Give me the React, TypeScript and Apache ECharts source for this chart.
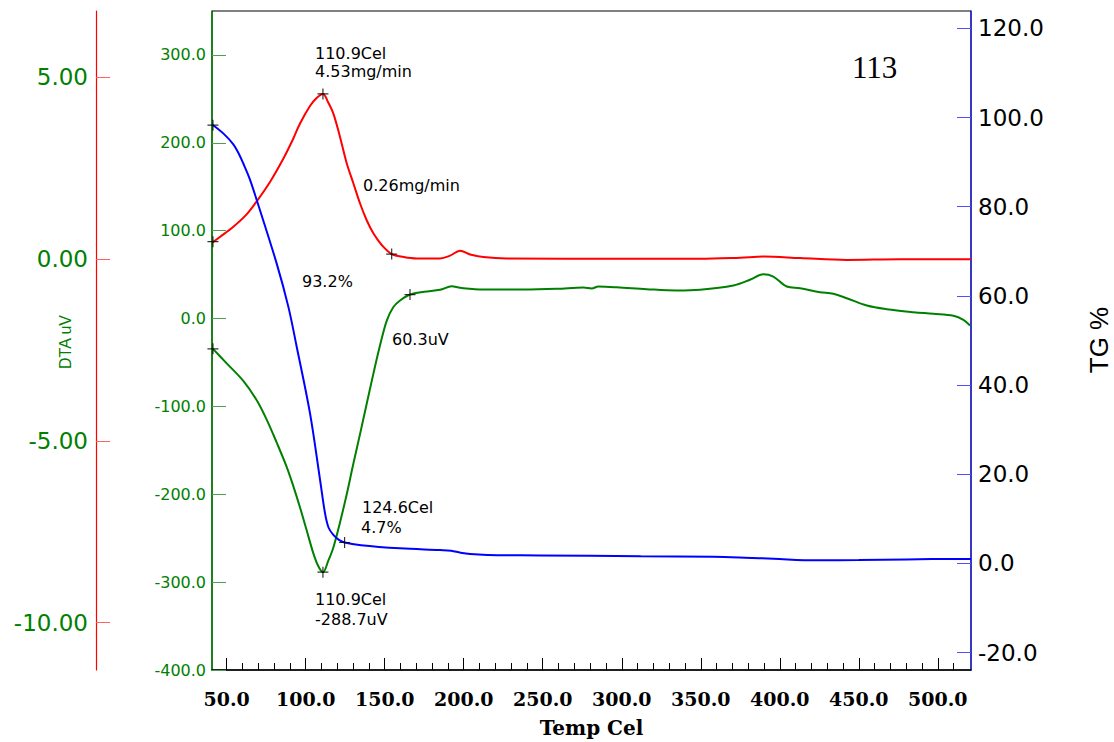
import React, { useEffect, useRef } from "react";
import * as echarts from "echarts";

// ---------- data ----------
const tgTemps = [41.0, 48.0, 54.2, 57.5, 60.5, 64.5, 69.0, 81.6, 89.0, 94.3, 102.7, 109.1, 112.2, 114.5, 117.5, 121.0, 124.6, 135, 159.7, 185, 192, 198, 204, 215, 248, 312, 358, 378, 396, 423, 450, 480, 513, 521];
const tgValues = [98.4, 96.4, 94.0, 92.0, 89.7, 86.3, 81.5, 67.3, 57.6, 48.6, 33.7, 18.7, 11.3, 8.0, 6.4, 5.3, 4.7, 4.1, 3.4, 3.0, 2.85, 2.4, 2.1, 1.9, 1.8, 1.6, 1.5, 1.3, 1.05, 0.7, 0.75, 0.9, 1.0, 1.0];

const dtgTemps = [41.0, 45.7, 54.2, 62.6, 69.0, 77.5, 85.8, 92.1, 96.4, 102.7, 106.9, 110.9, 114.1, 117.5, 121.7, 126.0, 130.2, 134.4, 138.6, 142.8, 148.1, 154.4, 162, 170.3, 185, 191, 197.7, 204, 212.4, 227.2, 300, 349.3, 375, 389.6, 412.8, 442.4, 476.1, 521];
const dtgValues = [0.45, 0.6, 0.88, 1.22, 1.58, 2.12, 2.75, 3.3, 3.72, 4.2, 4.42, 4.53, 4.31, 3.99, 3.35, 2.62, 2.07, 1.52, 1.06, 0.7, 0.38, 0.13, 0.05, 0.01, 0.01, 0.08, 0.22, 0.12, 0.05, 0.01, 0.0, 0.0, 0.03, 0.06, 0.02, -0.03, -0.01, -0.01];

const dtaTemps = [41.0, 50.0, 60.5, 69.0, 75.3, 81.6, 88.0, 92.2, 96.4, 100.6, 104.8, 108.0, 110.9, 114.3, 117.5, 121.7, 126.0, 130.1, 134.4, 138.6, 142.8, 147.0, 151.3, 155.4, 159.7, 166.0, 175, 185.0, 192.4, 197.7, 212.4, 237.7, 258.9, 275.7, 281, 285.2, 296.8, 315.8, 334.8, 349.5, 370.6, 381.1, 389.6, 395.9, 404.4, 412.8, 425.5, 433.9, 442.4, 455.1, 467.7, 484.6, 497.2, 509.9, 516.2, 520.4];
const dtaValues = [-34, -51, -71, -93, -115, -141, -169, -191, -215, -241, -267, -282, -288.7, -275.6, -260.5, -232, -199.7, -165.5, -131.3, -97, -63, -30.8, -2.3, 12.9, 20.5, 27.3, 30.5, 32.7, 36.8, 35, 33, 33, 33.8, 35.3, 34.2, 36.4, 35.6, 33.4, 31.9, 32.7, 37.6, 44.1, 50.5, 47.8, 36.4, 34.5, 30, 28.1, 23.1, 14.8, 10.6, 7.2, 5.4, 3.1, -1.5, -8];

// marker points (temperature, value)
const tgMarkers = [[41.3, 98.3], [124.6, 4.7]];
const dtgMarkers = [[41.3, 0.47], [110.9, 4.53], [154.4, 0.13]];
const dtaMarkers = [[41.3, -34.5], [110.9, -288.7], [166.0, 27.3]];

// tick values
const xMajorTicks = [50, 100, 150, 200, 250, 300, 350, 400, 450, 500];
const xMinorTicks = [50, 60, 70, 80, 90, 100, 110, 120, 130, 140, 150, 160, 170, 180, 190, 200, 210, 220, 230, 240, 250, 260, 270, 280, 290, 300, 310, 320, 330, 340, 350, 360, 370, 380, 390, 400, 410, 420, 430, 440, 450, 460, 470, 480, 490, 500, 510];
const dtaTicks = [-400, -300, -200, -100, 0, 100, 200, 300];
const dtgTicks = [-10, -5, 0, 5];
const tgTicks = [-20, 0, 20, 40, 60, 80, 100, 120];

const GREEN = "#008000";
const RED = "#ff0000";
const BLUE = "#0000ff";
const SANS = "DejaVu Sans";

const pairs = (xs: number[], ys: number[]) => xs.map((x, i) => [x, ys[i]]);

const annotations = [
  { text: "110.9Cel", x: 315, y: 53 },
  { text: "4.53mg/min", x: 315, y: 71 },
  { text: "0.26mg/min", x: 363, y: 185 },
  { text: "93.2%", x: 302, y: 281 },
  { text: "60.3uV", x: 392, y: 339 },
  { text: "124.6Cel", x: 362, y: 507 },
  { text: "4.7%", x: 361, y: 527 },
  { text: "110.9Cel", x: 315, y: 599 },
  { text: "-288.7uV", x: 315, y: 619 },
];

const CROSS = "path://M5 0L5 10M0 5L10 5";

export default function App() {
  const ref = useRef<HTMLDivElement>(null);
  useEffect(() => {
    if (!ref.current) return;
    const chart = echarts.init(ref.current, undefined, { renderer: "svg" });
    const markerSeries = (data: number[][], yAxisIndex: number) => ({
      type: "scatter",
      xAxisIndex: 0,
      yAxisIndex,
      data,
      symbol: CROSS,
      symbolSize: 11,
      itemStyle: { color: "transparent", borderColor: "#000", borderWidth: 1.2 },
      z: 10,
      silent: true,
    });
    const lineSeries = (name: string, data: number[][], yAxisIndex: number, color: string) => ({
      type: "line",
      name,
      xAxisIndex: 0,
      yAxisIndex,
      data,
      showSymbol: false,
      smooth: 0.35,
      lineStyle: { color, width: 2 },
      silent: true,
    });
    chart.setOption({
      animation: false,
      backgroundColor: "#fff",
      grid: {
        left: 212,
        right: 143,
        top: 11,
        bottom: 72,
        show: true,
        borderColor: "#000",
        borderWidth: 1,
        containLabel: false,
        outerBoundsMode: "none",
      },
      xAxis: [
        {
          type: "value",
          position: "bottom",
          min: 40.7,
          max: 521,
          name: "Temp Cel",
          nameLocation: "middle",
          nameGap: 48,
          nameTextStyle: { fontFamily: "DejaVu Serif", fontWeight: "bold", fontSize: 20, color: "#000" },
          axisLine: { show: true, onZero: false, lineStyle: { color: "#000", width: 1.5 } },
          axisTick: { show: true, inside: true, length: 12, customValues: xMajorTicks, lineStyle: { color: "#000" } },
          axisLabel: {
            customValues: xMajorTicks,
            formatter: (v: number) => v.toFixed(1),
            fontFamily: "DejaVu Serif",
            fontWeight: "bold",
            fontSize: 19,
            color: "#000",
            margin: 19,
          },
          splitLine: { show: false },
        },
        {
          type: "value",
          position: "bottom",
          min: 40.7,
          max: 521,
          axisLine: { show: false, onZero: false },
          axisTick: { show: true, inside: true, length: 7, customValues: xMinorTicks, lineStyle: { color: "#000" } },
          axisLabel: { show: false },
          splitLine: { show: false },
        },
      ],
      yAxis: [
        {
          type: "value",
          position: "left",
          offset: 0,
          min: -400,
          max: 350,
          axisLine: { show: true, onZero: false, lineStyle: { color: GREEN, width: 1.5 } },
          axisTick: { show: true, inside: true, length: 14, customValues: dtaTicks, lineStyle: { color: "#4ea04e" } },
          axisLabel: {
            customValues: dtaTicks,
            formatter: (v: number) => v.toFixed(1),
            fontFamily: SANS,
            fontSize: 16,
            color: GREEN,
            margin: 6,
          },
          splitLine: { show: false },
        },
        {
          type: "value",
          position: "left",
          offset: 116,
          min: -11.3,
          max: 6.81,
          axisLine: { show: true, onZero: false, lineStyle: { color: RED, width: 1.2 } },
          axisTick: { show: true, inside: true, length: 14, customValues: dtgTicks, lineStyle: { color: "#ff6060" } },
          axisLabel: {
            customValues: dtgTicks,
            formatter: (v: number) => v.toFixed(2),
            fontFamily: SANS,
            fontSize: 23,
            color: GREEN,
            margin: 8,
          },
          splitLine: { show: false },
        },
        {
          type: "value",
          position: "right",
          offset: 0,
          min: -23.9,
          max: 123.9,
          axisLine: { show: true, onZero: false, lineStyle: { color: "#2020dd", width: 1.5 } },
          axisTick: { show: true, inside: true, length: 14, customValues: tgTicks, lineStyle: { color: "#5050ff" } },
          axisLabel: {
            customValues: tgTicks,
            formatter: (v: number) => v.toFixed(1),
            fontFamily: SANS,
            fontSize: 23,
            color: "#000",
            margin: 7,
          },
          splitLine: { show: false },
        },
      ],
      series: [
        lineSeries("DTG", pairs(dtgTemps, dtgValues), 1, RED),
        lineSeries("DTA", pairs(dtaTemps, dtaValues), 0, GREEN),
        lineSeries("TG", pairs(tgTemps, tgValues), 2, BLUE),
        markerSeries(dtgMarkers, 1),
        markerSeries(dtaMarkers, 0),
        markerSeries(tgMarkers, 2),
      ],
      graphic: [
        ...annotations.map((a) => ({
          type: "text",
          x: a.x,
          y: a.y,
          silent: true,
          style: {
            text: a.text,
            fill: "#000",
            font: `16px "${SANS}"`,
            align: "left",
            verticalAlign: "middle",
          },
        })),
        {
          type: "text",
          x: 852,
          y: 67,
          silent: true,
          style: { text: "113", fill: "#000", font: '31px "Liberation Serif"', align: "left", verticalAlign: "middle" },
        },
        {
          type: "text",
          x: 65,
          y: 342,
          rotation: Math.PI / 2,
          silent: true,
          style: { text: "DTA uV", fill: GREEN, font: '16px "Liberation Sans"', align: "center", verticalAlign: "middle" },
        },
        {
          type: "text",
          x: 1099,
          y: 340,
          rotation: Math.PI / 2,
          silent: true,
          style: { text: "TG %", fill: "#000", font: '26px "Liberation Sans"', align: "center", verticalAlign: "middle" },
        },
      ],
    });
    return () => chart.dispose();
  }, []);
  return <div ref={ref} style={{ position: "absolute", left: 0, top: 0, width: 1114, height: 742 }} />;
}
